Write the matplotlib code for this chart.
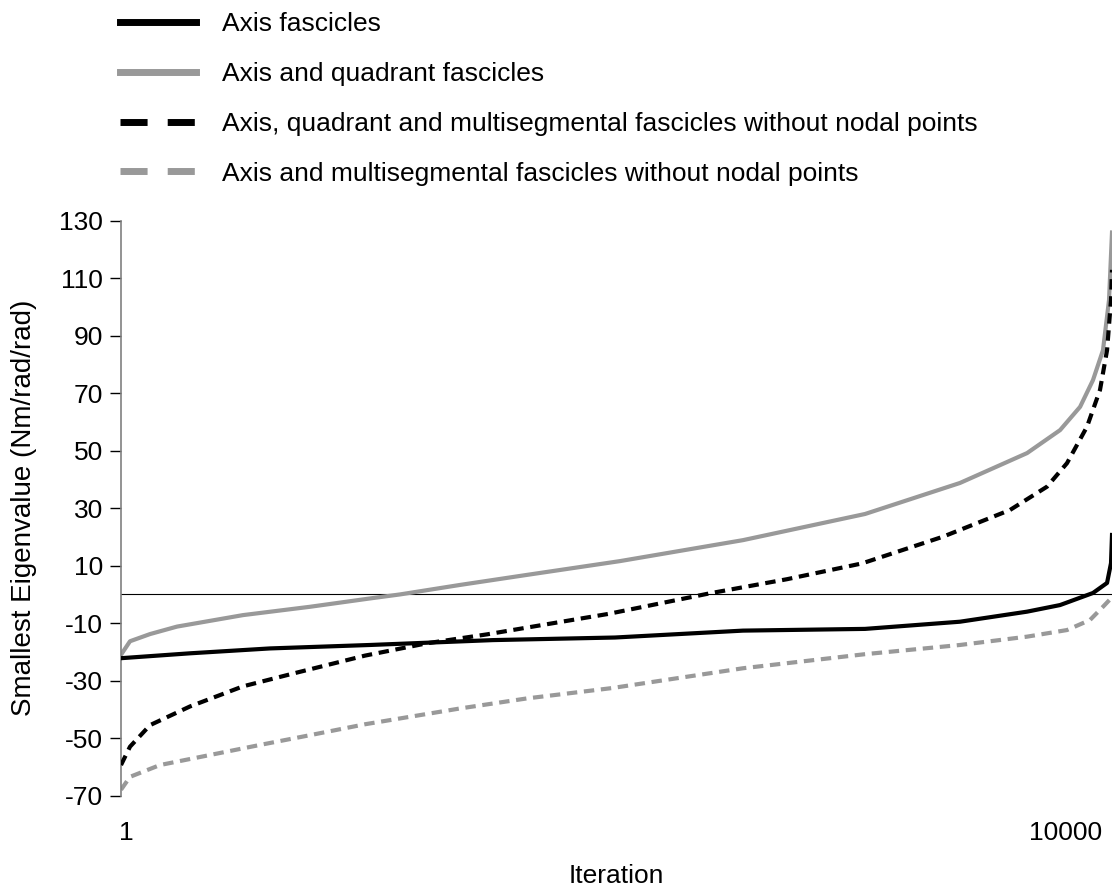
import matplotlib.pyplot as plt
import matplotlib.transforms as mtransforms
from matplotlib.lines import Line2D

plt.rcParams['font.family'] = ['Liberation Sans', 'DejaVu Sans']
plt.rcParams['axes.unicode_minus'] = False

# sorted smallest eigenvalue per iteration (key points along each curve)
axis_it = [1, 697, 1504, 2513, 3754, 4985, 6277, 7508, 8466, 9143, 9476, 9808, 9950, 9990, 10000]
axis_val = [-22.2, -20.5, -18.8, -17.6, -15.9, -15.0, -12.6, -12.0, -9.5, -6.0, -3.7, 0.5, 4.0, 10.9, 20.7]

quad_it = [1, 92, 294, 566, 1232, 1908, 2513, 2816, 3421, 4097, 5036, 6277, 7508, 8466, 9143,
           9476, 9678, 9808, 9909, 9970, 10000]
quad_val = [-21.0, -16.3, -13.8, -11.2, -7.2, -4.3, -1.4, 0.0, 3.3, 6.8, 11.6, 18.9, 28.0, 38.8, 49.2,
            57.2, 65.3, 74.6, 85.0, 102.5, 126.0]

aqm_it = [1, 92, 294, 697, 1232, 1777, 2463, 3089, 3694, 4259, 4915, 5944, 6721, 7478, 8295,
          8971, 9344, 9546, 9748, 9879, 9950, 9990, 10000]
aqm_val = [-59.4, -53.0, -45.5, -39.0, -32.0, -27.2, -21.3, -17.0, -13.9, -10.6, -6.8, 0.4, 5.3, 10.8, 20.1,
           29.4, 37.5, 45.7, 58.4, 71.2, 85.0, 102.5, 113.0]

am_it = [1, 92, 394, 899, 1403, 1908, 2463, 3421, 4097, 4955, 6277, 7508, 8466, 9143, 9546,
         9778, 9909, 10000]
am_val = [-68.0, -63.5, -59.4, -55.9, -52.4, -49.0, -45.2, -39.7, -36.2, -32.6, -25.7, -20.8, -17.6, -14.7, -12.4,
          -8.9, -4.3, -1.0]

labels = ['Axis fascicles',
          'Axis and quadrant fascicles',
          'Axis, quadrant and multisegmental fascicles without nodal points',
          'Axis and multisegmental fascicles without nodal points']

grey = '#999999'

fig = plt.figure(figsize=(11.14, 8.96), dpi=100)
ax = fig.add_axes([121 / 1114, 100.5 / 896, 991 / 1114, 574.5 / 896])

ax.axhline(0, color='black', lw=0.8, zorder=1)
ax.plot(axis_it, axis_val, color='black', lw=3, solid_joinstyle='round', zorder=3)
ax.plot(quad_it, quad_val, color=grey, lw=3, solid_joinstyle='round', zorder=2)
ax.plot(aqm_it, aqm_val, color='black', lw=3, dashes=(2.5, 1.6), zorder=3)
ax.plot(am_it, am_val, color=grey, lw=3, dashes=(2.5, 1.6), zorder=2)

ax.set_xlim(1, 10000)
ax.set_ylim(-70, 130)
ax.set_yticks(range(-70, 131, 20))
ax.set_xticks([1, 10000])
ax.set_xticklabels(['1', '10000'])
ax.tick_params(axis='y', labelsize=19, length=8, width=1, direction='out', pad=5)
ax.tick_params(axis='x', labelsize=19, length=0, pad=18)

# nudge the x labels in from the ends
xl = ax.get_xticklabels()
xl[0].set_transform(xl[0].get_transform() + mtransforms.ScaledTranslation(5 / 100, 0, fig.dpi_scale_trans))
xl[1].set_horizontalalignment('right')
xl[1].set_transform(xl[1].get_transform() + mtransforms.ScaledTranslation(-10 / 100, 0, fig.dpi_scale_trans))

for s in ['top', 'right', 'bottom']:
    ax.spines[s].set_visible(False)
ax.spines['left'].set_color('#808080')
ax.spines['left'].set_linewidth(1.2)

ax.set_xlabel('Iteration', fontsize=19, labelpad=14)
ax.set_ylabel('Smallest Eigenvalue (Nm/rad/rad)', fontsize=20, labelpad=16)

handles = [Line2D([], [], color='black', lw=5),
           Line2D([], [], color=grey, lw=5),
           Line2D([], [], color='black', lw=5, dashes=(3.9, 2.9)),
           Line2D([], [], color=grey, lw=5, dashes=(3.9, 2.9))]
fig.legend(handles, labels, loc='upper left', bbox_to_anchor=(0.0864, 1.013),
           frameon=False, fontsize=19, handlelength=2.88, handletextpad=1.0,
           labelspacing=0.98)

fig.savefig('out.png', dpi=100)
